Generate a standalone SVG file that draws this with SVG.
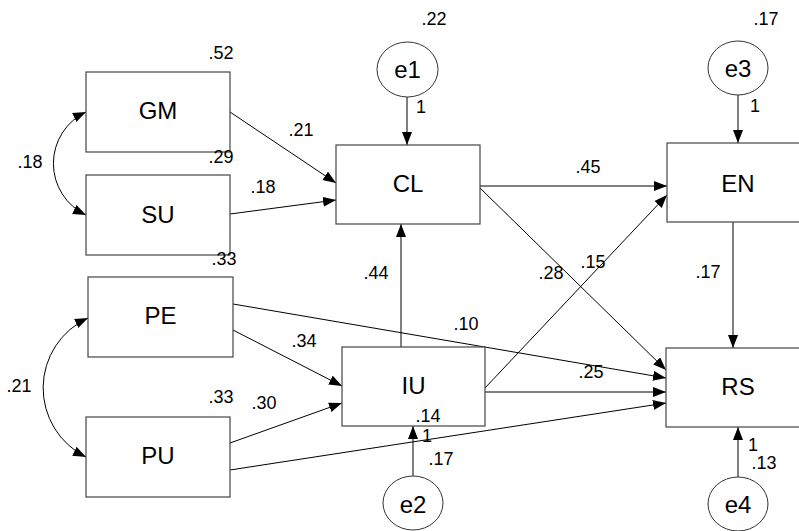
<svg xmlns="http://www.w3.org/2000/svg" width="799" height="531" viewBox="0 0 799 531">
<style>
.box{fill:#fff;stroke:#444;stroke-width:1.2}
.err{fill:#fff;stroke:#333;stroke-width:1}
.nl{font-family:"Liberation Sans",Arial,sans-serif;font-size:24px;fill:#000;text-anchor:middle}
.num{font-family:"Liberation Sans",Arial,sans-serif;font-size:18px;fill:#000}
.c{fill:none;stroke:#000;stroke-width:1;marker-end:url(#ah)}
.cv{fill:none;stroke:#000;stroke-width:1;marker-end:url(#ah);marker-start:url(#ahs)}
</style>
<defs>
<marker id="ah" markerUnits="userSpaceOnUse" markerWidth="14" markerHeight="11" refX="13" refY="5" orient="auto"><path d="M0,0 L13,5 L0,10 z" fill="#000"/></marker>
<marker id="ahs" markerUnits="userSpaceOnUse" markerWidth="14" markerHeight="11" refX="13" refY="5" orient="auto-start-reverse"><path d="M0,0 L13,5 L0,10 z" fill="#000"/></marker>
</defs>
<rect width="799" height="531" fill="#fff"/>
<g id="connectors">
<path class="c" d="M230,112 L336,183"/>
<path class="c" d="M230,214 L336,200"/>
<path class="c" d="M407,97 L407,145"/>
<path class="c" d="M401,347 L401,224"/>
<path class="c" d="M480,186 L667,186"/>
<path class="c" d="M480,188 L666,370"/>
<path class="c" d="M485,388 L667,195"/>
<path class="c" d="M738,95 L738,143"/>
<path class="c" d="M733,222 L733,348"/>
<path class="c" d="M233,330 L342,386"/>
<path class="c" d="M230,443 L342,403"/>
<path class="c" d="M233,304 L666,378"/>
<path class="c" d="M485,392 L666,392"/>
<path class="c" d="M230,470 L666,403"/>
<path class="c" d="M413,476 L413,426"/>
<path class="c" d="M738,477 L738,427"/>
<path class="cv" d="M86,112 A57,57 0 0,0 86,215"/>
<path class="cv" d="M88,318 A77,77 0 0,0 86,457"/>
</g>
<g id="GM"><rect class="box" x="86" y="72" width="144" height="80"/><text class="nl" x="158" y="119">GM</text></g>
<g id="SU"><rect class="box" x="86" y="175" width="144" height="80"/><text class="nl" x="158" y="223">SU</text></g>
<g id="PE"><rect class="box" x="88" y="277" width="145" height="80"/><text class="nl" x="160.5" y="324">PE</text></g>
<g id="PU"><rect class="box" x="86" y="417" width="144" height="80"/><text class="nl" x="158" y="464">PU</text></g>
<g id="CL"><rect class="box" x="336" y="145" width="144" height="79"/><text class="nl" x="408" y="192">CL</text></g>
<g id="IU"><rect class="box" x="342" y="347" width="143" height="79"/><text class="nl" x="413.5" y="394">IU</text></g>
<g id="EN"><rect class="box" x="667" y="143" width="144" height="79"/><text class="nl" x="738" y="192">EN</text></g>
<g id="RS"><rect class="box" x="666" y="348" width="144" height="79"/><text class="nl" x="738" y="395">RS</text></g>
<g id="e1"><ellipse class="err" cx="407.5" cy="69.5" rx="30.5" ry="27.5"/><text class="nl" x="407.5" y="78">e1</text></g>
<g id="e3"><ellipse class="err" cx="738" cy="68" rx="30" ry="27"/><text class="nl" x="738" y="77">e3</text></g>
<g id="e2"><ellipse class="err" cx="413" cy="503" rx="30" ry="27"/><text class="nl" x="413" y="513">e2</text></g>
<g id="e4"><ellipse class="err" cx="738" cy="504" rx="30" ry="27"/><text class="nl" x="738" y="513">e4</text></g>
<g id="labels">
<text class="num" x="208.5" y="59">.52</text>
<text class="num" x="208.5" y="163">.29</text>
<text class="num" x="250.5" y="193">.18</text>
<text class="num" x="288.5" y="136">.21</text>
<text class="num" x="17.5" y="168">.18</text>
<text class="num" x="211.5" y="265">.33</text>
<text class="num" x="363.5" y="279">.44</text>
<text class="num" x="453.5" y="330">.10</text>
<text class="num" x="291.5" y="347">.34</text>
<text class="num" x="208.5" y="403">.33</text>
<text class="num" x="251.5" y="409">.30</text>
<text class="num" x="6.5" y="392">.21</text>
<text class="num" x="415.5" y="422">.14</text>
<text class="num" x="422" y="442">1</text>
<text class="num" x="428.5" y="465">.17</text>
<text class="num" x="421.5" y="25">.22</text>
<text class="num" x="416" y="113">1</text>
<text class="num" x="753.5" y="25">.17</text>
<text class="num" x="750" y="112">1</text>
<text class="num" x="575.5" y="173">.45</text>
<text class="num" x="538.5" y="279">.28</text>
<text class="num" x="580.5" y="268">.15</text>
<text class="num" x="695.5" y="278">.17</text>
<text class="num" x="578.5" y="378">.25</text>
<text class="num" x="748" y="451">1</text>
<text class="num" x="751.5" y="469">.13</text>
</g>
</svg>
